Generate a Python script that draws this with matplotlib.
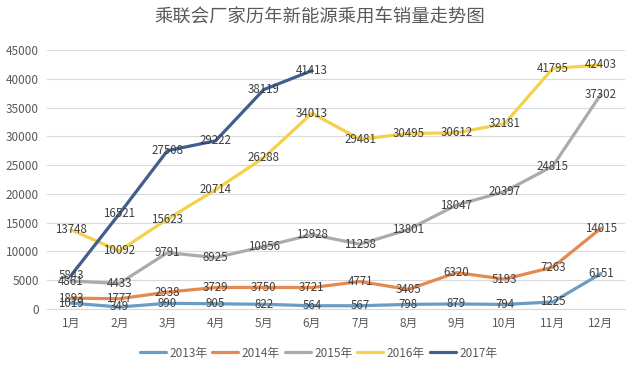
import matplotlib
matplotlib.use("Agg")
import matplotlib.pyplot as plt

plt.rcParams['font.family'] = ['Noto Sans CJK SC', 'DejaVu Sans']

months = ['1月', '2月', '3月', '4月', '5月', '6月', '7月', '8月', '9月', '10月', '11月', '12月']
sales_2013 = [1019, 349, 990, 905, 822, 564, 567, 798, 879, 794, 1225, 6151]
sales_2014 = [1893, 1777, 2938, 3729, 3750, 3721, 4771, 3405, 6320, 5193, 7263, 14015]
sales_2015 = [4861, 4433, 9791, 8925, 10856, 12928, 11258, 13801, 18047, 20397, 24815, 37302]
sales_2016 = [13748, 10092, 15623, 20714, 26288, 34013, 29481, 30495, 30612, 32181, 41795, 42403]
sales_2017 = [5843, 16521, 27508, 29222, 38119, 41413]

series = [
    ('2013年', sales_2013, '#6a9cc4'),
    ('2014年', sales_2014, '#e58a4e'),
    ('2015年', sales_2015, '#ababab'),
    ('2016年', sales_2016, '#f3d24a'),
    ('2017年', sales_2017, '#405f8c'),
]

fig = plt.figure(figsize=(6.4, 3.72), dpi=100)
ax = fig.add_axes([47 / 640, 63 / 372, 578 / 640, 259 / 372])

for name, vals, color in series:
    x = list(range(len(vals)))
    ax.plot(x, vals, color=color, linewidth=2.3, label=name, solid_capstyle='round')
    for xi, v in zip(x, vals):
        ax.text(xi, v, str(v), ha='center', va='center', fontsize=8.3, color='#404040')

ax.set_xlim(-0.5, 11.5)
ax.set_ylim(0, 45000)
ax.set_yticks(range(0, 45001, 5000))
ax.set_xticks(range(12))
ax.set_xticklabels(months)
ax.tick_params(axis='both', length=0, labelsize=8.5, colors='#595959', pad=6)
ax.grid(axis='y', color='#d9d9d9', linewidth=0.8)
ax.set_axisbelow(True)
for s in ['top', 'right', 'left']:
    ax.spines[s].set_visible(False)
ax.spines['bottom'].set_color('#d9d9d9')

fig.text(0.5, 0.953, '乘联会厂家历年新能源乘用车销量走势图', ha='center', va='center',
         fontsize=13.2, color='#595959')

ax.legend(loc='center', bbox_to_anchor=(0.47, -0.17), ncol=5, frameon=False,
          fontsize=8.5, handlelength=2.2, columnspacing=0.4, handletextpad=0.3,
          labelcolor='#595959')

fig.savefig('out.png', dpi=100, facecolor='white')
